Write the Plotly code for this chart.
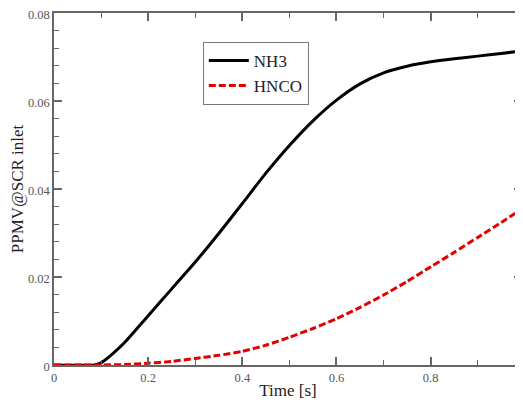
import plotly.graph_objects as go

nh3_t = [0, 0.085, 0.1, 0.125, 0.15, 0.2, 0.25, 0.3, 0.35, 0.4, 0.45, 0.5, 0.55,
         0.6, 0.65, 0.7, 0.75, 0.8, 0.85, 0.9, 0.95, 0.994]
nh3_v = [0, 0, 0.0005, 0.0026, 0.0051, 0.0112, 0.0173, 0.0234, 0.0299, 0.0367, 0.0436,
         0.0499, 0.0555, 0.0602, 0.0639, 0.0664, 0.0679, 0.0689, 0.0696, 0.0702, 0.0708, 0.0714]

hnco_t = [0, 0.1, 0.15, 0.2, 0.25, 0.3, 0.35, 0.4, 0.45, 0.5, 0.55, 0.6, 0.65,
          0.7, 0.75, 0.8, 0.85, 0.9, 0.95, 0.994]
hnco_v = [0, 0, 0.0001, 0.0004, 0.0008, 0.0015, 0.0022, 0.0031, 0.0045, 0.0063,
          0.0083, 0.0105, 0.0131, 0.0159, 0.019, 0.0223, 0.0256, 0.029, 0.0324, 0.0355]

font = "Liberation Serif, Times New Roman, serif"
fig = go.Figure()
fig.add_trace(go.Scatter(x=nh3_t, y=nh3_v, name="NH3", mode="lines",
                         line=dict(color="black", width=3, shape="spline", smoothing=0.6)))
fig.add_trace(go.Scatter(x=hnco_t, y=hnco_v, name="HNCO", mode="lines",
                         line=dict(color="#e00000", width=3, dash="7px,3px", shape="spline", smoothing=0.6)))

axis_common = dict(showline=True, linecolor="#666", linewidth=1.5, mirror="ticks",
                   ticks="inside", tickcolor="#666", ticklen=8, tickwidth=1.5,
                   showgrid=False, zeroline=False, automargin=False,
                   ticklabeloverflow="allow",
                   tickfont=dict(family=font, size=12.5, color="#555"))
fig.update_xaxes(range=[0, 0.994], dtick=0.2, tick0=0,
                 minor=dict(dtick=0.1, ticks="inside", ticklen=5, tickcolor="#666", tickwidth=1.2),
                 title=dict(text="Time [s]", font=dict(family=font, size=17, color="#222"), standoff=0),
                 **axis_common)
fig.update_yaxes(range=[0, 0.08], dtick=0.02, tick0=0, ticklabelshift=2,
                 minor=dict(dtick=0.004, ticks="inside", ticklen=5, tickcolor="#666", tickwidth=1.2),
                 title=dict(text="PPMV@SCR inlet", font=dict(family=font, size=17, color="#222"), standoff=0),
                 **axis_common)
# the page body adds an 8px offset, so the figure is sized 8px smaller
fig.update_layout(width=515, height=395, margin=dict(l=46, r=1, t=5, b=38),
                  paper_bgcolor="white", plot_bgcolor="white",
                  showlegend=True,
                  legend=dict(x=0.318, y=0.918, xanchor="left", yanchor="top",
                              bordercolor="#777", borderwidth=1, bgcolor="white",
                              font=dict(family=font, size=17, color="#222"),
                              tracegroupgap=0, itemwidth=40))
fig.write_html("out.html")
